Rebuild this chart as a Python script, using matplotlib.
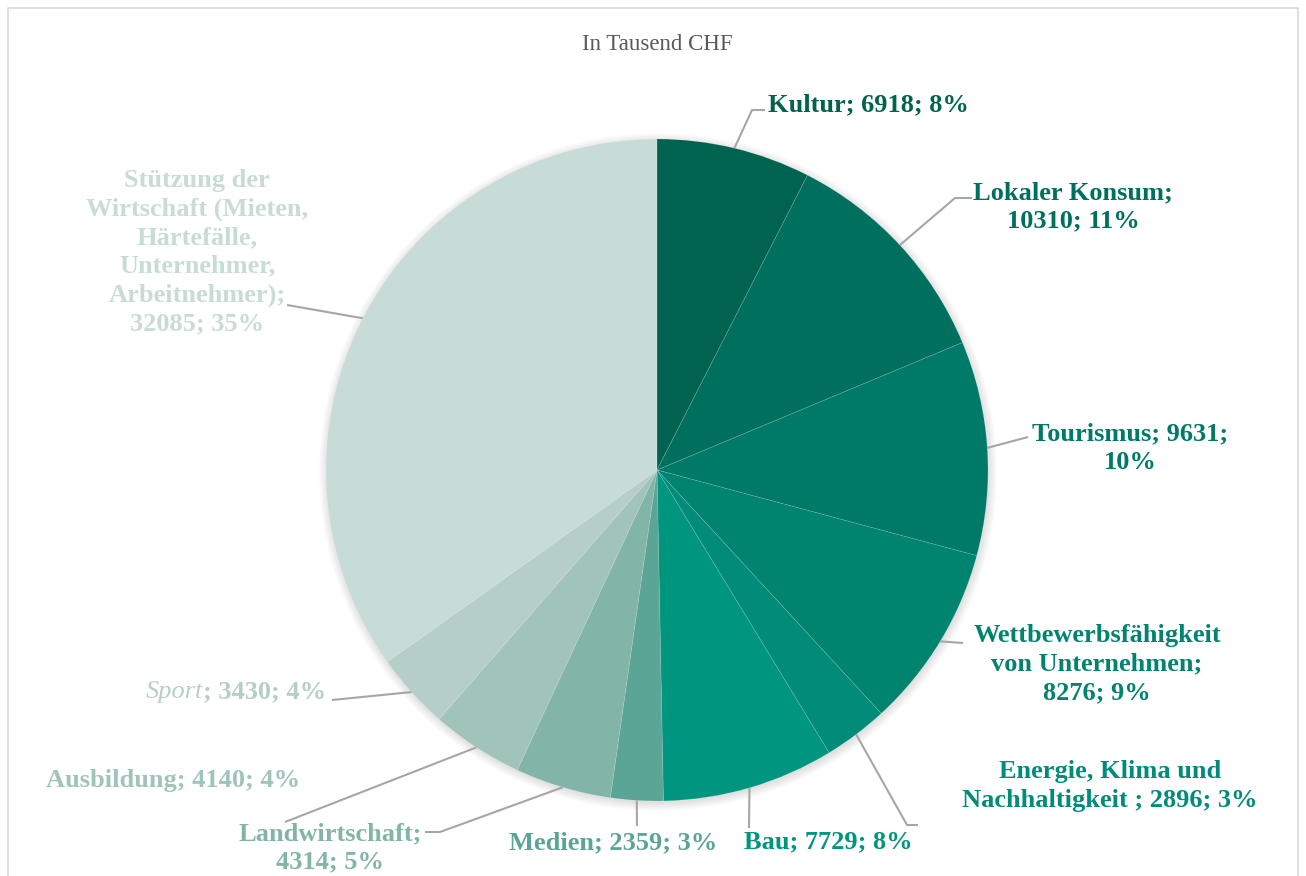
import numpy as np
import matplotlib
matplotlib.use("Agg")
import matplotlib.pyplot as plt
from matplotlib.patches import Circle

W, H = 1306, 876
SERIF = "Liberation Serif"
LEADER = "#A6A6A6"

CATEGORIES = [
    "Kultur",
    "Lokaler Konsum",
    "Tourismus",
    "Wettbewerbsfähigkeit von Unternehmen",
    "Energie, Klima und Nachhaltigkeit ",
    "Bau",
    "Medien",
    "Landwirtschaft",
    "Ausbildung",
    "Sport",
    "Stützung der Wirtschaft (Mieten, Härtefälle, Unternehmer, Arbeitnehmer)",
]
VALUES = [6918, 10310, 9631, 8276, 2896, 7729, 2359, 4314, 4140, 3430, 32085]
PERCENTS = ["8%", "11%", "10%", "9%", "3%", "8%", "3%", "5%", "4%", "4%", "35%"]
COLORS = [
    "#00634F", "#006F5E", "#007A68", "#00836F", "#008C78", "#00957F",
    "#5BA597", "#82B4A8", "#A0C3BA", "#B5CFC8", "#C8DCD7",
]
# label text as wrapped in the original chart
LABEL_TEXT = [
    "Kultur; 6918; 8%",
    "Lokaler Konsum;\n10310; 11%",
    "Tourismus; 9631;\n10%",
    "Wettbewerbsfähigkeit\nvon Unternehmen;\n8276; 9%",
    "Energie, Klima und\nNachhaltigkeit ; 2896; 3%",
    "Bau; 7729; 8%",
    "Medien; 2359; 3%",
    "Landwirtschaft;\n4314; 5%",
    "Ausbildung; 4140; 4%",
    "; 3430; 4%",
    "Stützung der\nWirtschaft (Mieten,\nHärtefälle,\nUnternehmer,\nArbeitnehmer);\n32085; 35%",
]

# layout in pixel space (x, y from top): label anchor, alignment, leader bends
LABEL_POS = [
    ((768, 105), "left"),
    ((1073, 207), "center"),
    ((1130, 448), "center"),
    ((1097, 664), "center"),
    ((1110, 786), "center"),
    ((828, 842), "center"),
    ((613, 843), "center"),
    ((330, 848), "center"),
    ((173, 781), "center"),
    ((326, 692), "right"),
    ((197, 252), "center"),
]
LEADER_PTS = [
    [(752, 110), (765, 110)],
    [(955, 198), (972, 198)],
    [(1028, 437)],
    [(963, 643)],
    [(907, 825), (918, 825)],
    [(749, 828)],
    [(637, 826)],
    [(440, 832), (425, 832)],
    [(285, 822)],
    [(342, 699), (332, 700)],
    [(287, 305)],
]

CENTER = (657, 470)
RADIUS = 331


def px(x, y):
    return x, H - y


fig = plt.figure(figsize=(W / 100, H / 100), dpi=100)
ax = fig.add_axes([0, 0, 1, 1])

# frame
ax.plot([8, 8, 1298, 1298], [0, H - 8, H - 8, 0], color="#D9D9D9", lw=1.2)

cx, cy = px(*CENTER)

# soft shadow
for i in range(10):
    ax.add_patch(Circle((cx + 1, cy - 2), RADIUS + i * 0.9, color="black",
                        alpha=0.012, lw=0, zorder=1))

wedges, _ = ax.pie(
    VALUES,
    colors=COLORS,
    startangle=90,
    counterclock=False,
    radius=RADIUS,
    center=(cx, cy),
    frame=True,
    wedgeprops=dict(edgecolor=(1, 1, 1, 0.18), linewidth=0.5),
)
for w in wedges:
    w.set_zorder(2)
ax.set_xlim(0, W)
ax.set_ylim(0, H)
ax.set_aspect("equal")
ax.axis("off")

ax.text(*px(657, 45), "In Tausend CHF", ha="center", va="center",
        fontsize=16.5, family=SERIF, color="#595959")

texts = []
for i, w in enumerate(wedges):
    mid = np.deg2rad((w.theta1 + w.theta2) / 2)
    start = (cx + RADIUS * np.cos(mid), cy + RADIUS * np.sin(mid))
    pts = [start] + [px(*p) for p in LEADER_PTS[i]]
    xs, ys = zip(*pts)
    ax.plot(xs, ys, color=LEADER, lw=1.5, zorder=3, solid_capstyle="butt")

    (lx, ly), ha = LABEL_POS[i]
    t = ax.text(*px(lx, ly), LABEL_TEXT[i], ha=ha, va="center",
                multialignment="center", fontsize=19, fontweight="bold",
                family=SERIF, color=COLORS[i], linespacing=1.3, zorder=4)
    texts.append(t)

# italic "Sport" before its bold numbers
fig.canvas.draw()
bb = texts[9].get_window_extent().transformed(ax.transData.inverted())
ax.text(bb.x0, px(326, 692)[1], "Sport", ha="right", va="center",
        fontsize=19, fontstyle="italic", family=SERIF, color=COLORS[9], zorder=4)

fig.savefig("out.png", dpi=100, facecolor="white")
